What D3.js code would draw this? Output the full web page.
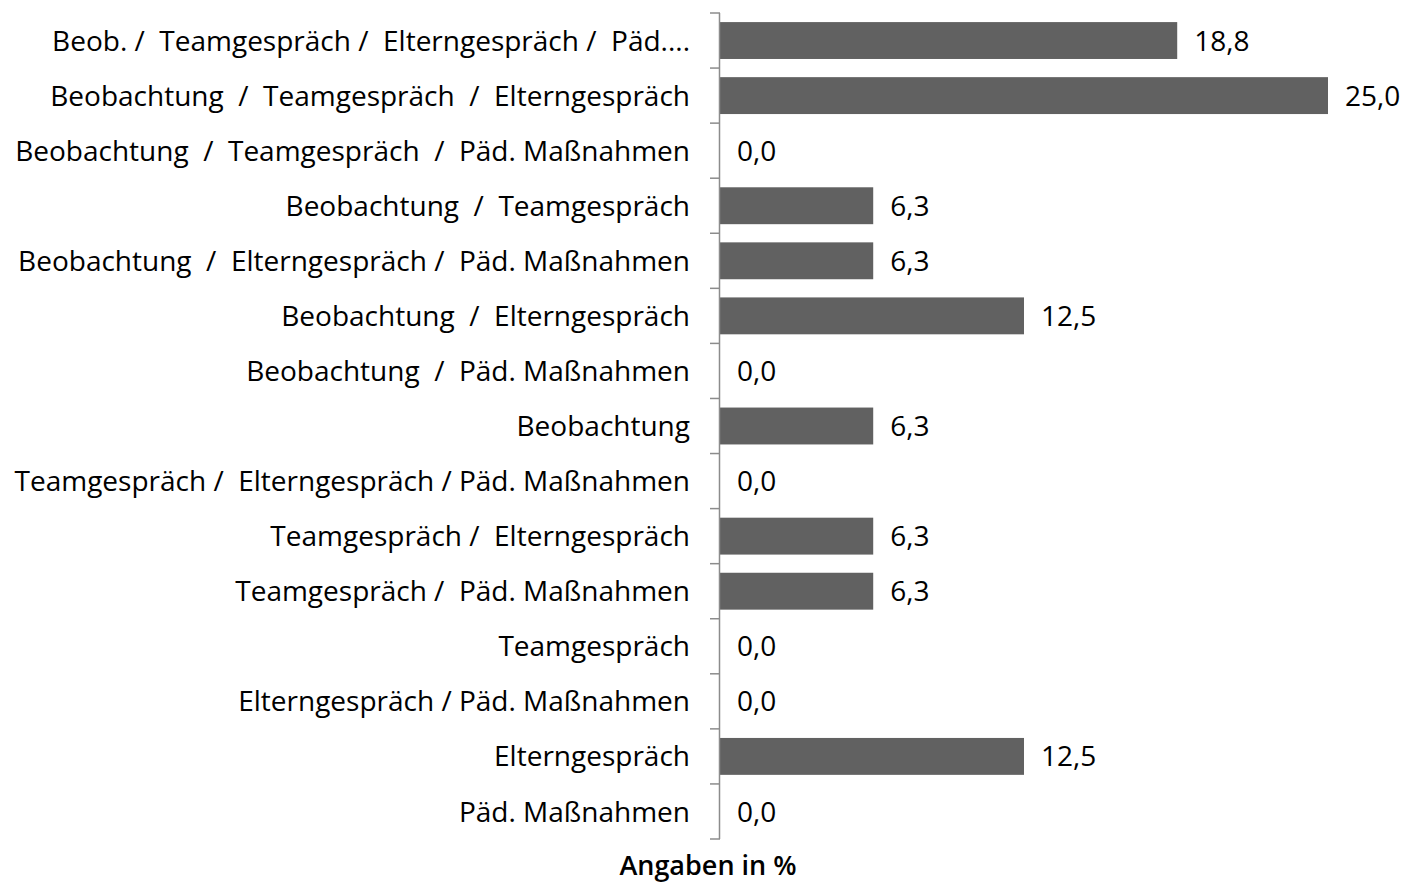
<!DOCTYPE html>
<html>
<head>
<meta charset="utf-8">
<script src="https://cdn.jsdelivr.net/npm/d3@7"></script>
<style>
  body { margin: 0; background: #fff; }
  text { font-family: "Open Sans", sans-serif; fill: #000; }
</style>
</head>
<body>
<div id="chart"></div>
<script>
const width = 1403,
    height = 885;

// Kategorien (von oben nach unten) und Werte in %
const categories = [
    "Beob. /  Teamgespräch /  Elterngespräch /  Päd....",
    "Beobachtung  /  Teamgespräch  /  Elterngespräch",
    "Beobachtung  /  Teamgespräch  /  Päd. Maßnahmen",
    "Beobachtung  /  Teamgespräch",
    "Beobachtung  /  Elterngespräch /  Päd. Maßnahmen",
    "Beobachtung  /  Elterngespräch",
    "Beobachtung  /  Päd. Maßnahmen",
    "Beobachtung",
    "Teamgespräch /  Elterngespräch / Päd. Maßnahmen",
    "Teamgespräch /  Elterngespräch",
    "Teamgespräch /  Päd. Maßnahmen",
    "Teamgespräch",
    "Elterngespräch / Päd. Maßnahmen",
    "Elterngespräch",
    "Päd. Maßnahmen"
];
const values = [18.8, 25.0, 0.0, 6.3, 6.3, 12.5, 0.0, 6.3, 0.0, 6.3, 6.3, 0.0, 0.0, 12.5, 0.0];
const axisTitle = "Angaben in %";

const data = categories.map((c, i) => ({ label: c, value: values[i] }));

const x0 = 720,
    yTop = 13,
    yBottom = 839;

const x = d3.scaleLinear()
    .domain([0, 25])
    .range([x0, 1328]);

const y = d3.scaleBand()
    .domain(d3.range(categories.length))
    .range([yTop, yBottom])
    .paddingInner(0.33)
    .paddingOuter(0.165);

const svg = d3.select("#chart")
    .append("svg")
    .attr("width", width)
    .attr("height", height);

// Balken
svg.selectAll("rect.bar")
    .data(data)
    .enter()
    .append("rect")
    .attr("class", "bar")
    .attr("x", x(0))
    .attr("y", (d, i) => y(i))
    .attr("width", d => x(d.value) - x(0))
    .attr("height", y.bandwidth())
    .style("fill", "#616161");

// Achse mit Ticks an den Kategoriegrenzen
const step = (yBottom - yTop) / categories.length;
const axis = svg.append("g");
axis.append("line")
    .attr("x1", x0 - 0.5).attr("x2", x0 - 0.5)
    .attr("y1", yTop).attr("y2", yBottom)
    .style("stroke", "#8c8c8c")
    .style("stroke-width", 1.5);
axis.selectAll("line.tick")
    .data(d3.range(categories.length + 1))
    .enter()
    .append("line")
    .attr("class", "tick")
    .attr("x1", x0 - 10).attr("x2", x0)
    .attr("y1", d => yTop + d * step).attr("y2", d => yTop + d * step)
    .style("stroke", "#8c8c8c")
    .style("stroke-width", 1.5);

// Kategorienbeschriftung
svg.selectAll("text.cat")
    .data(data)
    .enter()
    .append("text")
    .attr("class", "cat")
    .attr("x", 690)
    .attr("y", (d, i) => y(i) + y.bandwidth() / 2)
    .attr("dy", "0.36em")
    .attr("text-anchor", "end")
    .style("white-space", "pre")
    .style("font-size", "28px")
    .text(d => d.label);

// Wertebeschriftung
const fmt = v => d3.format(".1f")(v).replace(".", ",");
svg.selectAll("text.val")
    .data(data)
    .enter()
    .append("text")
    .attr("class", "val")
    .attr("x", d => x(d.value) + 17)
    .attr("y", (d, i) => y(i) + y.bandwidth() / 2)
    .attr("dy", "0.36em")
    .style("font-size", "28px")
    .text(d => fmt(d.value));

// Achsentitel
svg.append("text")
    .attr("x", 708)
    .attr("y", 875)
    .attr("text-anchor", "middle")
    .style("font-size", "27px")
    .style("font-weight", "600")
    .text(axisTitle);
</script>
</body>
</html>
